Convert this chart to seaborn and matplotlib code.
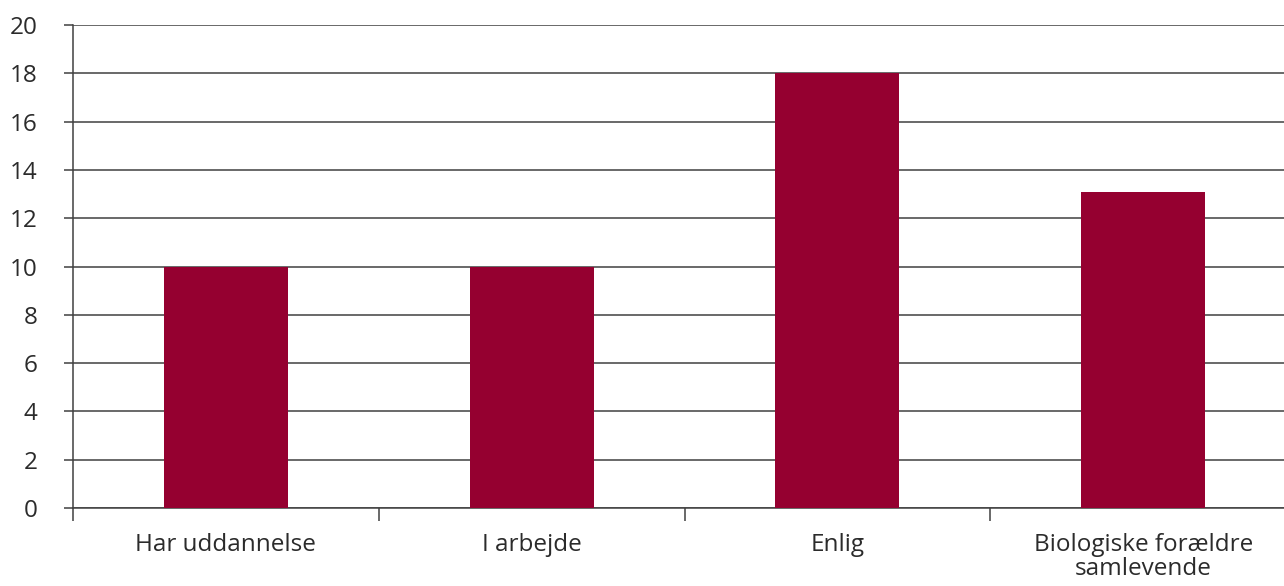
import seaborn as sns
import matplotlib.pyplot as plt
import pandas as pd
from matplotlib.ticker import FixedLocator

categories = ["Har uddannelse", "I arbejde", "Enlig", "Biologiske forældre\nsamlevende"]
values = [10, 10, 18, 13.1]
y_ticks = list(range(0, 21, 2))

df = pd.DataFrame({"kategori": categories, "andel": values})

sns.set_theme(style="white")
plt.rcParams["font.family"] = ["Open Sans", "DejaVu Sans"]

fig = plt.figure(figsize=(12.84, 5.86), dpi=100)
ax = fig.add_axes([73 / 1284, 1 - 508 / 586, 1223 / 1284, 483 / 586])

sns.barplot(data=df, x="kategori", y="andel", color="#950030",
            saturation=1, width=0.405, linewidth=0, ax=ax, zorder=3)

ax.set_ylim(0, 20)
ax.set_xlim(-0.5, 3.5)
ax.set_yticks(y_ticks)
ax.yaxis.grid(True, color="#404040", linewidth=1.1, zorder=0)
ax.set_axisbelow(True)

for s in ["top", "right"]:
    ax.spines[s].set_visible(False)
ax.spines["left"].set_color("#404040")
ax.spines["bottom"].set_color("#404040")
ax.spines["left"].set_linewidth(1.1)
ax.spines["bottom"].set_linewidth(1.1)

ax.tick_params(axis="y", length=6.5, width=1.1, color="#404040", pad=19,
               labelsize=17.5, labelcolor="#2b2b2b", left=True)
ax.tick_params(axis="x", which="major", length=0, pad=18,
               labelsize=17.5, labelcolor="#2b2b2b")
for lbl in ax.get_xticklabels():
    lbl.set_linespacing(1.02)
ax.xaxis.set_minor_locator(FixedLocator([-0.5, 0.5, 1.5, 2.5, 3.5]))
ax.tick_params(axis="x", which="minor", length=9, width=1.1,
               color="#404040", bottom=True)

ax.set_xlabel("")
ax.set_ylabel("")

fig.savefig("out.png", dpi=100)
